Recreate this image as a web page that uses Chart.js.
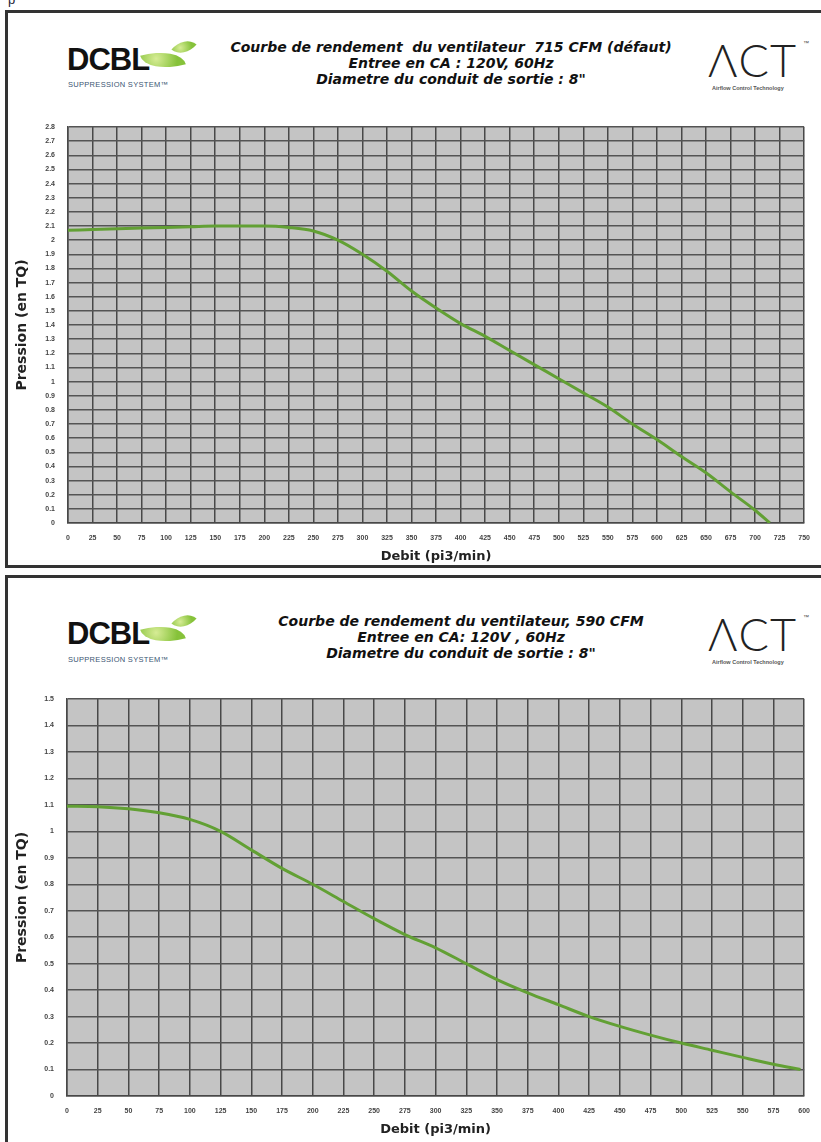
<!DOCTYPE html>
<html>
<head>
<meta charset="utf-8">
<script src="https://cdn.jsdelivr.net/npm/chart.js@4.4.1/dist/chart.umd.min.js"></script>
<style>
  html, body { margin:0; padding:0; background:#fff; }
  body { width:821px; height:1142px; position:relative; overflow:hidden; }
  .box { position:absolute; border:3px solid #333; box-sizing:border-box; }
  .cv { position:absolute; left:0; }
  .title { position:absolute; text-align:center; font-family:"DejaVu Sans",sans-serif;
           font-weight:bold; font-style:italic; font-size:14px; line-height:16px; color:#111; white-space:nowrap; }
  .dcbl { position:absolute; font-family:"Liberation Sans",Arial,sans-serif; font-weight:bold; font-size:31px;
          letter-spacing:-1px; color:#111; line-height:31px; }
  .supp { position:absolute; font-family:"Liberation Sans",Arial,sans-serif; font-size:7.5px; color:#3b5673;
          letter-spacing:0.3px; white-space:nowrap; }
  .leaf { position:absolute; background:radial-gradient(circle at 35% 35%,#d6ec95,#86c23a 70%); border-radius:0 100% 0 100%; }
  .act { position:absolute; font-family:"Lato","DejaVu Sans",sans-serif; font-weight:300; font-size:45px; color:#222;
         line-height:45px; letter-spacing:1px; }
  .acts { position:absolute; font-family:"Liberation Sans",Arial,sans-serif; font-weight:bold; font-size:5.5px; color:#555; white-space:nowrap; }
  .tm { position:absolute; font-family:"Liberation Sans",Arial,sans-serif; font-size:6px; color:#444; }
</style>
</head>
<body>
<div style="position:absolute;left:8px;top:-8px;font:13px 'Liberation Sans',Arial;color:#223;">p</div>

<div class="box" style="left:5px; top:10px; width:830px; height:558px;"></div>
<div class="box" style="left:5px; top:575px; width:830px; height:580px;"></div>

<!-- header chart 1 -->
<div class="dcbl" style="left:67px; top:44px;">DCBL</div>
<div class="leaf" style="left:142px; top:50px; width:42px; height:20px; transform:rotate(-15deg);"></div>
<div class="leaf" style="left:174px; top:39px; width:20px; height:16px; transform:rotate(-50deg);"></div>
<div class="supp" style="left:68px; top:80px;">SUPPRESSION SYSTEM™</div>
<div class="title" style="left:151px; width:600px; top:39px;">Courbe de rendement&nbsp; du ventilateur&nbsp; 715 CFM (défaut)<br>Entree en CA : 120V, 60Hz<br>Diametre du conduit de sortie : 8"</div>
<div class="act" style="left:708px; top:38px;">ΛCT</div>
<div class="tm" style="left:803px; top:40px;">™</div>
<div class="acts" style="left:712px; top:85px;">Airflow Control Technology</div>

<!-- header chart 2 -->
<div class="dcbl" style="left:67px; top:618px;">DCBL</div>
<div class="leaf" style="left:142px; top:624px; width:42px; height:20px; transform:rotate(-15deg);"></div>
<div class="leaf" style="left:174px; top:613px; width:20px; height:16px; transform:rotate(-50deg);"></div>
<div class="supp" style="left:68px; top:655px;">SUPPRESSION SYSTEM™</div>
<div class="title" style="left:161px; width:600px; top:613px;">Courbe de rendement du ventilateur, 590 CFM<br>Entree en CA: 120V , 60Hz<br>Diametre du conduit de sortie : 8"</div>
<div class="act" style="left:708px; top:612px;">ΛCT</div>
<div class="tm" style="left:803px; top:614px;">™</div>
<div class="acts" style="left:712px; top:659px;">Airflow Control Technology</div>

<canvas id="c1" class="cv" style="top:0px;"></canvas>
<canvas id="c2" class="cv" style="top:576px;"></canvas>

<script>
// ---- Data ----
const flow715 = [0, 25, 50, 75, 100, 125, 150, 175, 200, 225, 250, 275, 300, 325, 350, 375, 400, 425, 450, 475, 500, 525, 550, 575, 600, 625, 650, 675, 700, 715];
const pressure715 = [2.07, 2.075, 2.08, 2.085, 2.09, 2.095, 2.10, 2.10, 2.10, 2.09, 2.065, 2.0, 1.9, 1.78, 1.64, 1.52, 1.41, 1.32, 1.22, 1.12, 1.02, 0.92, 0.82, 0.70, 0.59, 0.47, 0.355, 0.22, 0.09, 0.0];

const flow590 = [0, 25, 50, 75, 100, 125, 150, 175, 200, 225, 250, 275, 300, 325, 350, 375, 400, 425, 450, 475, 500, 525, 550, 575, 597];
const pressure590 = [1.095, 1.093, 1.085, 1.07, 1.045, 1.0, 0.93, 0.86, 0.80, 0.735, 0.67, 0.61, 0.56, 0.50, 0.44, 0.39, 0.345, 0.30, 0.263, 0.23, 0.20, 0.173, 0.146, 0.12, 0.10];

const xTicks715 = { min: 0, max: 750, step: 25 };
const yTicks715 = { min: 0, max: 2.8, step: 0.1 };
const xTicks590 = { min: 0, max: 600, step: 25 };
const yTicks590 = { min: 0, max: 1.5, step: 0.1 };

const xTitle = 'Debit (pi3/min)';
const yTitle = 'Pression (en TQ)';

// ---- Rendering ----
const plotBg = {
  id: 'plotBg',
  beforeDraw(chart) {
    const { ctx, chartArea: a } = chart;
    ctx.save();
    ctx.fillStyle = '#c4c4c4';
    ctx.fillRect(a.left, a.top, a.right - a.left, a.bottom - a.top);
    ctx.restore();
  }
};

function makeChart(id, w, h, pad, yWidth, flows, press, xt, yt) {
  const cv = document.getElementById(id);
  cv.width = w; cv.height = h;
  cv.style.width = w + 'px'; cv.style.height = h + 'px';
  const tickFont = { family: 'Liberation Sans', weight: 'bold', size: 7 };
  return new Chart(cv, {
    type: 'line',
    data: {
      datasets: [{
        data: flows.map((f, i) => ({ x: f, y: press[i] })),
        borderColor: '#62a034',
        borderWidth: 3,
        pointRadius: 0,
        fill: false,
        cubicInterpolationMode: 'monotone'
      }]
    },
    options: {
      responsive: false,
      animation: false,
      maintainAspectRatio: false,
      layout: { padding: pad },
      plugins: { legend: { display: false }, tooltip: { enabled: false } },
      scales: {
        x: {
          type: 'linear', min: xt.min, max: xt.max,
          afterFit(s) { s.height = 45; },
          ticks: { stepSize: xt.step, autoSkip: false, maxRotation: 0, padding: 11, color: '#444', font: tickFont },
          grid: { color: '#484848', lineWidth: 1.5, drawTicks: false },
          border: { display: true, color: '#484848', width: 1.5 },
          title: { display: true, text: xTitle, color: '#222', font: { family: 'DejaVu Sans', weight: 'bold', size: 13 }, padding: { top: 4, bottom: 4 } }
        },
        y: {
          type: 'linear', min: yt.min, max: yt.max,
          afterFit(s) { s.width = yWidth; },
          ticks: {
            stepSize: yt.step, autoSkip: false, padding: 13, color: '#444', font: tickFont,
            callback: v => String(Math.round(v * 10) / 10)
          },
          grid: { color: '#545454', lineWidth: 1.5, drawTicks: false },
          border: { display: true, color: '#484848', width: 1.5 },
          title: { display: true, text: yTitle, color: '#222', font: { family: 'DejaVu Sans', weight: 'bold', size: 14 }, padding: { top: 5.5, bottom: 4 } }
        }
      }
    },
    plugins: [plotBg]
  });
}

makeChart('c1', 821, 570, { top: 127, right: 13, bottom: 2, left: 8 }, 60, flow715, pressure715, xTicks715, yTicks715);
makeChart('c2', 821, 566, { top: 123, right: 13, bottom: 1, left: 8 }, 59, flow590, pressure590, xTicks590, yTicks590);
</script>
</body>
</html>
